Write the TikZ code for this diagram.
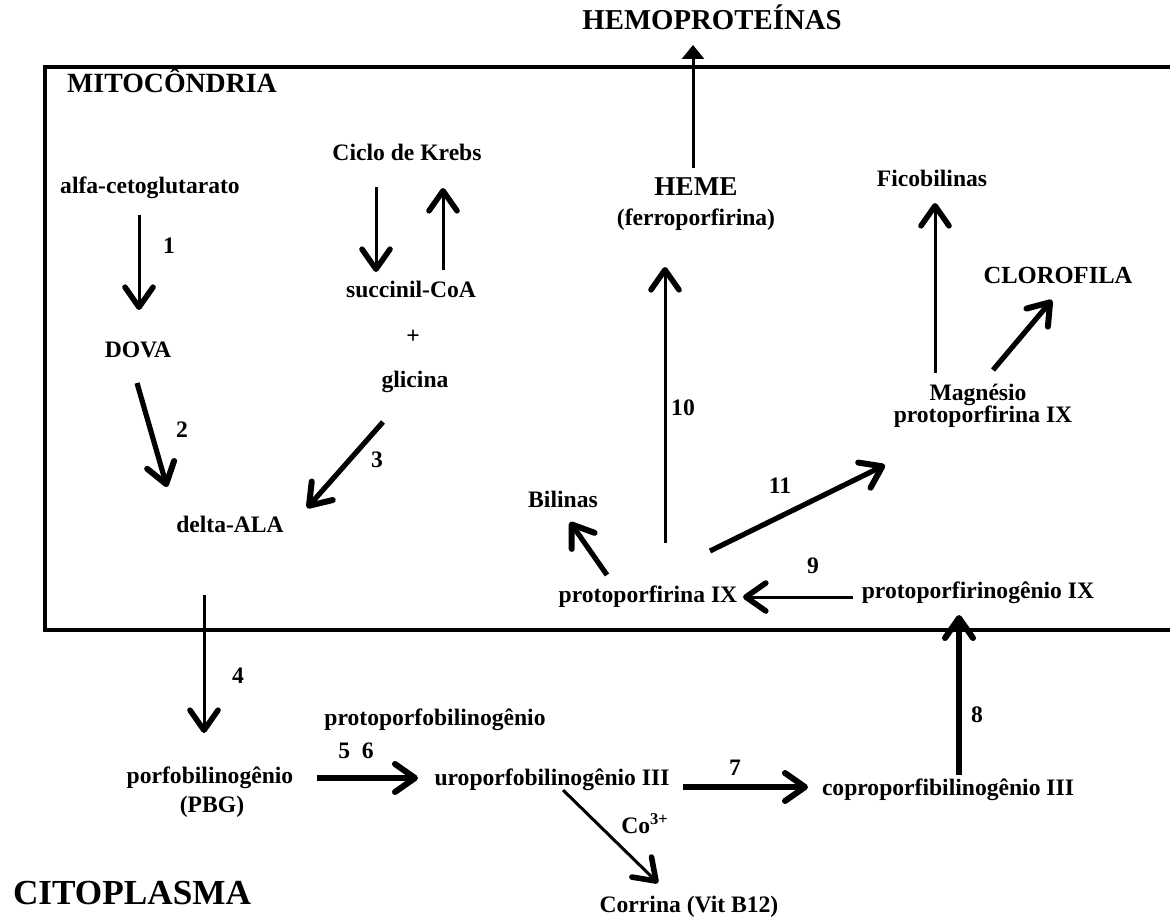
\documentclass[tikz,border=0pt]{standalone}
\usepackage{fontspec}
\setmainfont{Liberation Serif}
\usetikzlibrary{arrows.meta}
\tikzset{every node/.style={font=\bfseries\fontsize{11.8}{14}\selectfont,inner sep=0pt,text height=8pt,text depth=2.5pt},
  big/.style={font=\bfseries\fontsize{#1}{#1}\selectfont,text height=0.66*#1pt,text depth=0pt},
  fina/.style={line width=1.5pt,-{Straight Barb[length=10pt,width=14pt,line width=2.8pt,round]}},
  grossa/.style={line width=2.6pt,-{Straight Barb[length=10pt,width=14pt,line width=3pt,round]}},
  topo/.style={line width=1.5pt,-{Triangle[length=7pt,width=11pt]}},
  membrana/.style={line width=1.6pt}}
\newcommand{\cn}[5][fina]{\draw[#1] ([shift={(#3)}]#2.center) -- ([shift={(#5)}]#4.center);}
\newcommand{\est}[4][]{\node[#1] (#2) at (#3) {#4};}

\begin{document}
\begin{tikzpicture}[x=0.5pt,y=-0.5pt]
    \useasboundingbox (0,0) rectangle (1170,920);
    % mitocondria
    \draw[membrana] (1170,67) -- (45,67) -- (45,630) -- (1170,630);

    \est[big=14.4]{hemo}{712,20}{HEMOPROTEÍNAS}
    \est[big=13.9]{mito}{172,83}{MITOCÔNDRIA}
    \est[big=17.6]{cito}{132,893}{CITOPLASMA}

    \est{krebs}{407,155}{Ciclo de Krebs}
    \est{alfa}{150,188}{alfa-cetoglutarato}
    \est{dova}{138,352}{DOVA}
    \est{succ}{411,292}{succinil-CoA}
    \est{mais}{413,338}{+}
    \est{glic}{415,382}{glicina}
    \est{dala}{230,527}{delta-ALA}

    \est[big=13.6]{heme}{696,187}{HEME}
    \est{ferro}{696,220}{(ferroporfirina)}
    \est{fico}{932,181}{Ficobilinas}
    \est[big=12.3]{cloro}{1058,275}{CLOROFILA}
    \est{mg}{978,395}{Magnésio}
    \est{mgb}{983,417}{protoporfirina IX}
    \est{bil}{563,502}{Bilinas}
    \est{pp}{648,597}{protoporfirina IX}
    \est{ppg}{978,593}{protoporfirinogênio IX}

    \est{pbg}{210,778}{porfobilinogênio}
    \est{pbgb}{212,807}{(PBG)}
    \est{ppbg}{435,720}{protoporfobilinogênio}
    \est{uro}{552,780}{uroporfobilinogênio III}
    \est{copro}{948,790}{coproporfibilinogênio III}
    \est{corr}{689,907}{Corrina (Vit B12)}

    % numeros das reacoes
    \est{n1}{169,248}{1}
    \est{n2}{182,432}{2}
    \est{n3}{377,462}{3}
    \est{n4}{238,678}{4}
    \est{n56}{356,753}{5\ \ 6}
    \est{n7}{735,770}{7}
    \est{n8}{977,717}{8}
    \est{n9}{813,568}{9}
    \est{n10}{683,410}{10}
    \est{n11}{780,488}{11}
    \est{nco}{645,828}{Co\textsuperscript{3+}}

    % reacoes
    \cn{alfa}{-11,27}{dova}{1,-42}
    \cn[grossa]{dova}{-1,31}{dala}{-63,-40}
    \cn{krebs}{-31,32}{succ}{-35,-20}
    \cn{succ}{32,-22}{krebs}{36,33}
    \cn[grossa]{glic}{-32,40}{dala}{77,-19}
    \cn{dala}{-26,68}{pbg}{-6,-45}
    \cn[grossa]{pbg}{107,0}{uro}{-134,-2}
    \cn[grossa]{uro}{131,7}{copro}{-140,-3}
    \cn{uro}{11,10}{corr}{-31,-24}
    \cn[grossa]{copro}{11,-15}{ppg}{-19,22}
    \cn{ppg}{-125,4}{pp}{95,0}
    \cn[grossa]{pp}{-41,-22}{bil}{7,20}
    \cn{pp}{17,-54}{ferro}{-31,47}
    \cn[topo]{heme}{-3,-19}{hemo}{-19,25}
    \cn[grossa]{pp}{62,-46}{mg}{-93,70}
    \cn{mg}{-43,-22}{fico}{3,22}
    \cn[grossa]{mg}{15,-25}{cloro}{-6,25}
\end{tikzpicture}
\end{document}
